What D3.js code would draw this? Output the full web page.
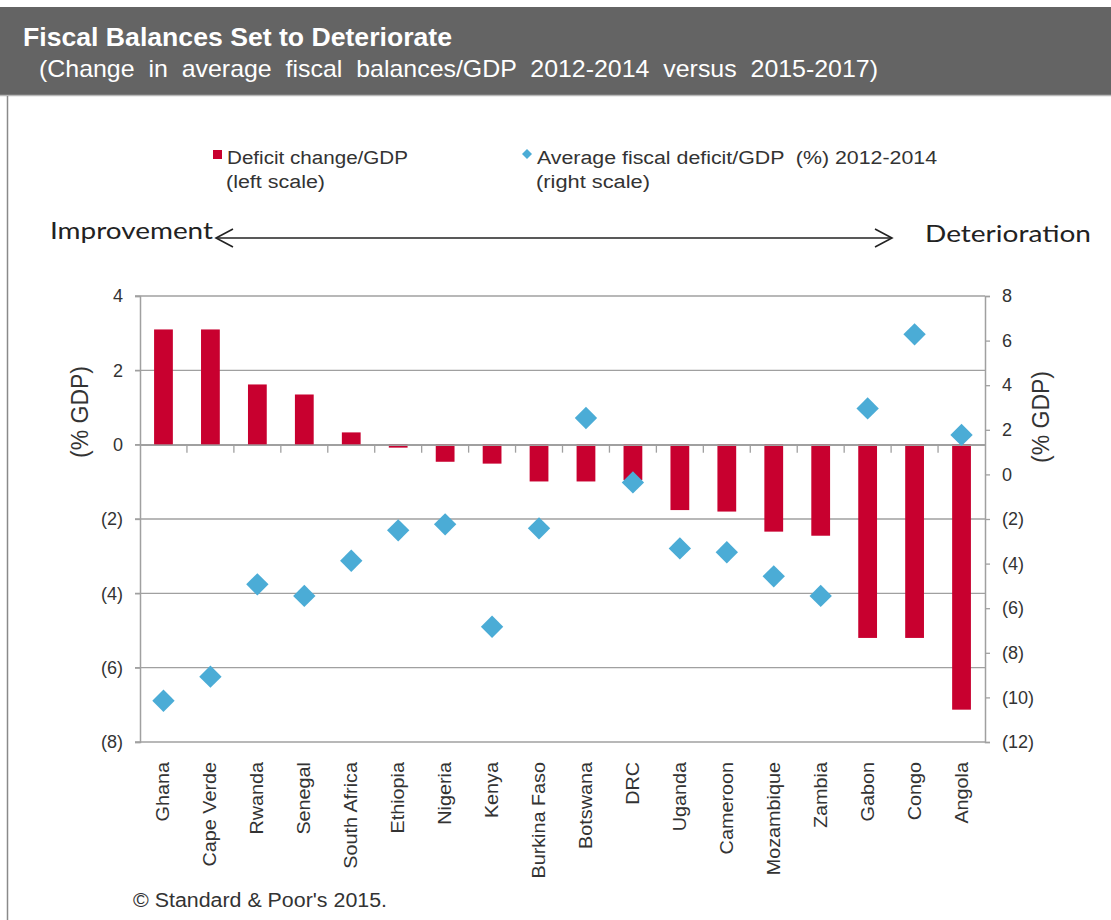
<!DOCTYPE html>
<html>
<head>
<meta charset="utf-8">
<script src="https://d3js.org/d3.v7.min.js"></script>
<style>
  body { margin: 0; background: #fff; }
  text { font-family: "Liberation Sans", Arial, sans-serif; }
</style>
</head>
<body>
<script>
// chart data
const countries = ["Ghana", "Cape Verde", "Rwanda", "Senegal", "South Africa", "Ethiopia",
  "Nigeria", "Kenya", "Burkina Faso", "Botswana", "DRC", "Uganda", "Cameroon",
  "Mozambique", "Zambia", "Gabon", "Congo", "Angola"];
// deficit change/GDP, left scale
const deficitChange = [3.1, 3.1, 1.62, 1.35, 0.33, -0.08, -0.46, -0.51, -0.99, -0.99,
  -0.95, -1.76, -1.8, -2.34, -2.45, -5.2, -5.2, -7.13];
// average fiscal deficit/GDP 2012-2014, right scale
const avgDeficit = [-10.15, -9.07, -4.93, -5.45, -3.87, -2.51, -2.24, -6.83, -2.42, 2.53,
  -0.36, -3.32, -3.49, -4.57, -5.45, 2.96, 6.28, 1.77];
const leftTicks = [4, 2, 0, -2, -4, -6, -8];
const rightTicks = [8, 6, 4, 2, 0, -2, -4, -6, -8, -10, -12];

const width = 1111, height = 920;
const x0 = 140, x1 = 985, yTop = 296, yBot = 742;
const red = "#C8002F", blue = "#4BACD6", grid = "#A0A0A0", txt = "#333";

const fmt = v => v < 0 ? `(${-v})` : `${v}`;

const svg = d3.select("body").append("svg")
  .attr("width", width).attr("height", height);

// header band
svg.append("rect").attr("x", 0).attr("y", 7).attr("width", width).attr("height", 88)
  .attr("fill", "#646464");
svg.append("line").attr("x1", 0).attr("x2", width).attr("y1", 95.5).attr("y2", 95.5)
  .attr("stroke", "#b8b8b8").attr("stroke-width", 1.5);
svg.append("line").attr("x1", 7.5).attr("x2", 7.5).attr("y1", 96).attr("y2", height)
  .attr("stroke", "#8a8a8a").attr("stroke-width", 1.5);

svg.append("text").attr("x", 23).attr("y", 46)
  .attr("fill", "#fff").attr("font-size", 26).attr("font-weight", "bold")
  .attr("textLength", 429).attr("lengthAdjust", "spacingAndGlyphs")
  .text("Fiscal Balances Set to Deteriorate");
svg.append("text").attr("x", 39).attr("y", 77)
  .attr("fill", "#fff").attr("font-size", 24).style("white-space", "pre")
  .attr("textLength", 839).attr("lengthAdjust", "spacingAndGlyphs")
  .text("(Change  in  average  fiscal  balances/GDP  2012-2014  versus  2015-2017)");

// scales
const x = d3.scaleBand().domain(countries).range([x0, x1])
  .paddingInner(0.6).paddingOuter(0.3);
const yL = d3.scaleLinear().domain([-8, 4]).range([yBot, yTop]);
const yR = d3.scaleLinear().domain([-12, 8]).range([yBot, yTop]);

// gridlines
svg.append("g").selectAll("line").data(leftTicks).join("line")
  .attr("x1", x0 - 5).attr("x2", x1)
  .attr("y1", d => yL(d)).attr("y2", d => yL(d))
  .attr("stroke", grid).attr("stroke-width", 1.3);

// left axis
const axL = svg.append("g").attr("transform", `translate(${x0},0)`)
  .call(d3.axisLeft(yL).tickValues(leftTicks).tickFormat(fmt).tickSize(5).tickPadding(12));
axL.select(".domain").attr("stroke", grid).attr("stroke-width", 1.5);
axL.selectAll(".tick line").attr("stroke", grid).attr("stroke-width", 1.3);
axL.selectAll(".tick text").attr("fill", txt).attr("font-size", 18)
  .attr("font-family", "'Liberation Sans', Arial, sans-serif");

// right axis
const axR = svg.append("g").attr("transform", `translate(${x1},0)`)
  .call(d3.axisRight(yR).tickValues(rightTicks).tickFormat(fmt).tickSize(5).tickPadding(12));
axR.select(".domain").attr("stroke", grid).attr("stroke-width", 1.5);
axR.selectAll(".tick line").attr("stroke", grid).attr("stroke-width", 1.3);
axR.selectAll(".tick text").attr("fill", txt).attr("font-size", 18)
  .attr("font-family", "'Liberation Sans', Arial, sans-serif");

// axis titles
svg.append("text").attr("transform", `translate(88,412) rotate(-90)`)
  .attr("text-anchor", "middle").attr("fill", txt).attr("font-size", 23).text("(% GDP)");
svg.append("text").attr("transform", `translate(1049,417) rotate(-90)`)
  .attr("text-anchor", "middle").attr("fill", txt).attr("font-size", 23).text("(% GDP)");

// bars
svg.append("g").selectAll("rect").data(countries).join("rect")
  .attr("x", d => x(d))
  .attr("width", x.bandwidth())
  .attr("y", (d, i) => yL(Math.max(0, deficitChange[i])))
  .attr("height", (d, i) => Math.abs(yL(deficitChange[i]) - yL(0)))
  .attr("fill", red);

// category axis on the zero line
const axX = svg.append("g").attr("transform", `translate(0,${yL(0)})`)
  .call(d3.axisBottom(x).tickSize(0).tickFormat(""));
axX.select(".domain").attr("stroke", grid).attr("stroke-width", 1.5);
svg.append("g").selectAll("line").data(countries.slice(1)).join("line")
  .attr("x1", d => x(d) - x.step() * x.paddingInner() / 2)
  .attr("x2", d => x(d) - x.step() * x.paddingInner() / 2)
  .attr("y1", yL(0)).attr("y2", yL(0) + 8)
  .attr("stroke", grid).attr("stroke-width", 1.3);

// diamonds
const diamond = d3.symbol().type(d3.symbolSquare).size(250);
svg.append("g").selectAll("path").data(countries).join("path")
  .attr("d", diamond)
  .attr("transform", (d, i) => `translate(${x(d) + x.bandwidth() / 2},${yR(avgDeficit[i])}) rotate(45)`)
  .attr("fill", blue);

// category labels
svg.append("g").selectAll("text").data(countries).join("text")
  .attr("transform", d => `translate(${x(d) + x.bandwidth() / 2 + 6},762) rotate(-90) scale(1.1,1)`)
  .attr("text-anchor", "end").attr("fill", txt).attr("font-size", 18)
  .text(d => d);

// legend
svg.append("rect").attr("x", 213).attr("y", 150).attr("width", 9).attr("height", 9).attr("fill", red);
svg.append("text").attr("x", 227).attr("y", 164).attr("fill", txt).attr("font-size", 18)
  .attr("textLength", 181).attr("lengthAdjust", "spacingAndGlyphs").text("Deficit change/GDP");
svg.append("text").attr("x", 226).attr("y", 188).attr("fill", txt).attr("font-size", 18)
  .attr("textLength", 99).attr("lengthAdjust", "spacingAndGlyphs").text("(left scale)");
svg.append("path").attr("d", d3.symbol().type(d3.symbolSquare).size(50))
  .attr("transform", "translate(527,154) rotate(45)").attr("fill", blue);
svg.append("text").attr("x", 537).attr("y", 164).attr("fill", txt).attr("font-size", 18)
  .style("white-space", "pre")
  .attr("textLength", 400).attr("lengthAdjust", "spacingAndGlyphs")
  .text("Average fiscal deficit/GDP  (%) 2012-2014");
svg.append("text").attr("x", 536).attr("y", 188).attr("fill", txt).attr("font-size", 18)
  .attr("textLength", 114).attr("lengthAdjust", "spacingAndGlyphs").text("(right scale)");

// improvement / deterioration arrow
const ay = 238;
svg.append("line").attr("x1", 216).attr("x2", 892).attr("y1", ay).attr("y2", ay)
  .attr("stroke", "#222").attr("stroke-width", 1.6);
svg.append("path").attr("d", `M233,${ay - 9}L216,${ay}L233,${ay + 9}`)
  .attr("fill", "none").attr("stroke", "#222").attr("stroke-width", 1.6);
svg.append("path").attr("d", `M875,${ay - 9}L892,${ay}L875,${ay + 9}`)
  .attr("fill", "none").attr("stroke", "#222").attr("stroke-width", 1.6);
svg.append("text").attr("x", 50).attr("y", 239).attr("fill", "#222")
  .style("font-family", "Lato, 'Open Sans', sans-serif").attr("font-size", 24)
  .attr("textLength", 163).attr("lengthAdjust", "spacingAndGlyphs").text("Improvement");
svg.append("text").attr("x", 925).attr("y", 242).attr("fill", "#222")
  .style("font-family", "Lato, 'Open Sans', sans-serif").attr("font-size", 24)
  .attr("textLength", 166).attr("lengthAdjust", "spacingAndGlyphs").text("Deterioration");

// source
svg.append("text").attr("x", 133).attr("y", 907).attr("fill", txt).attr("font-size", 20)
  .attr("textLength", 254).attr("lengthAdjust", "spacingAndGlyphs")
  .text("\u00A9 Standard & Poor's 2015.");
</script>
</body>
</html>
